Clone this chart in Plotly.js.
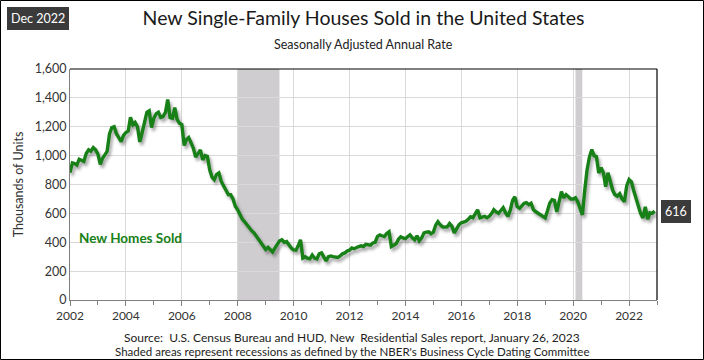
<!DOCTYPE html>
<html>
<head>
<meta charset="utf-8">
<script src="https://cdn.plot.ly/plotly-3.0.1.min.js"></script>
<style>
  html, body { margin: 0; padding: 0; background: #fff; }
  #chart { width: 704px; height: 360px; }
</style>
</head>
<body>
<div id="chart"></div>
<script>
// New single-family houses sold, SAAR, thousands of units, monthly from Jan 2002
const startYear = 2002;
const homesSold = [
  // 2002
  882, 950, 945, 935, 975, 965, 960, 1015, 1040, 1030, 1055, 1040,
  // 2003
  1010, 940, 980, 1005, 1030, 1150, 1194, 1200, 1150, 1125, 1097, 1140,
  // 2004
  1160, 1170, 1265, 1215, 1230, 1200, 1095, 1160, 1236, 1300, 1310, 1194,
  // 2005
  1260, 1290, 1300, 1265, 1270, 1300, 1389, 1264, 1260, 1333, 1250, 1225,
  // 2006
  1215, 1070, 1110, 1125, 1090, 1050, 990, 1020, 1040, 970, 1000, 995,
  // 2007
  900, 850, 833, 870, 880, 820, 785, 760, 730, 729, 700, 650,
  // 2008
  625, 590, 560, 542, 520, 500, 480, 465, 440, 415, 396, 375,
  // 2009
  350, 365, 350, 333, 360, 390, 410, 417, 400, 405, 380, 360,
  // 2010
  347, 345, 375, 417, 291, 300, 290, 285, 312, 290, 285, 320,
  // 2011
  326, 300, 270, 300, 305, 300, 295, 295, 305, 320, 326, 340,
  // 2012
  345, 361, 355, 365, 370, 375, 370, 385, 380, 380, 395, 400,
  // 2013
  440, 451, 445, 440, 460, 472, 370, 380, 390, 420, 438, 430,
  // 2014
  425, 440, 451, 430, 417, 445, 410, 430, 465, 470, 472, 460,
  // 2015
  470, 520, 542, 520, 507, 505, 507, 530, 510, 465, 495, 521,
  // 2016
  535, 540, 545, 560, 576, 570, 600, 625, 569, 575, 580, 570,
  // 2017
  580, 600, 625, 610, 600, 620, 639, 604, 580, 620, 690, 715,
  // 2018
  646, 635, 650, 670, 674, 660, 670, 625, 611, 600, 590, 576,
  // 2019
  569, 620, 670, 694, 690, 611, 680, 750, 708, 729, 715, 700,
  // 2020
  700, 708, 681, 640, 590, 760, 900, 990, 1042, 1000, 993, 880,
  // 2021
  917, 880, 785, 882, 812, 760, 729, 720, 736, 700, 681, 790,
  // 2022
  835, 819, 760, 700, 646, 600, 569, 646, 560, 604, 600, 616
];
const recessions = [
  ['2008-01-01', '2009-06-30'],
  ['2020-02-01', '2020-04-30']
];
const yTicks = [0, 200, 400, 600, 800, 1000, 1200, 1400, 1600];
const latestLabel = 'Dec 2022';

const months = homesSold.map((_, i) => {
  const y = startYear + Math.floor(i / 12);
  const m = (i % 12) + 1;
  return y + '-' + String(m).padStart(2, '0') + '-01';
});
const lastValue = homesSold[homesSold.length - 1];

const M = { l: 70, r: 47, t: 69, b: 60 };
const W = 704, H = 360;
const pw = W - M.l - M.r, ph = H - M.t - M.b;
const px = v => (v - M.l) / pw;          // pixel -> paper x
const py = v => (H - M.b - v) / ph;      // pixel -> paper y

const FONT = 'Lato, "Open Sans", sans-serif';

const shapes = recessions.map(r => ({
  type: 'rect', xref: 'x', yref: 'paper', x0: r[0], x1: r[1], y0: 0, y1: 1,
  fillcolor: '#cfcdd0', line: { width: 0 }, layer: 'below'
}));
// top and right plot borders
shapes.push({ type: 'line', xref: 'paper', yref: 'paper', x0: 0, x1: 1, y0: 1, y1: 1, line: { color: '#000', width: 1.2 } });
shapes.push({ type: 'line', xref: 'paper', yref: 'paper', x0: 1, x1: 1, y0: 0, y1: 1, line: { color: '#000', width: 1.2 } });
// outer frame
shapes.push({ type: 'rect', xref: 'paper', yref: 'paper', x0: px(0.5), x1: px(W - 0.5), y0: py(H - 0.5), y1: py(0.5), line: { color: '#000', width: 1 }, fillcolor: 'rgba(0,0,0,0)' });

const data = [{
  x: months, y: homesSold, type: 'scatter', mode: 'lines',
  line: { color: '#178017', width: 3.4 }, hoverinfo: 'x+y'
}];

const layout = {
  width: W, height: H,
  margin: M,
  paper_bgcolor: '#fff', plot_bgcolor: '#fff',
  showlegend: false,
  font: { family: FONT, color: '#333', size: 12 },
  title: {
    text: 'New Single-Family Houses Sold in the United States',
    font: { family: FONT, size: 19.5, color: '#1a1a1a' },
    x: 0.5, xref: 'paper', xanchor: 'center', y: 1 - 11 / H, yanchor: 'top'
  },
  xaxis: {
    type: 'date',
    range: ['2002-01-01', '2023-01-01'],
    tick0: '2002-01-01', dtick: 'M24', tickformat: '%Y',
    showgrid: true, gridcolor: '#d9d9d9', gridwidth: 1,
    showline: true, linecolor: '#7f7f7f', linewidth: 1,
    ticks: 'outside', ticklen: 5, tickcolor: '#7f7f7f',
    minor: { dtick: 'M12', ticks: 'outside', ticklen: 4, tickcolor: '#7f7f7f', showgrid: false },
    tickfont: { family: FONT, size: 12, color: '#333' },
    zeroline: false, fixedrange: true
  },
  yaxis: {
    range: [0, 1600], tickvals: yTicks, tickformat: ',d',
    showgrid: true, gridcolor: '#d9d9d9', gridwidth: 1,
    showline: true, linecolor: '#7f7f7f', linewidth: 1,
    ticks: '', zeroline: false,
    tickfont: { family: FONT, size: 12.5, color: '#333' },
    title: { text: 'Thousands of Units', font: { family: FONT, size: 12.5, color: '#333' }, standoff: 8 },
    fixedrange: true
  },
  shapes: shapes,
  annotations: [
    {
      text: 'Seasonally Adjusted Annual Rate', xref: 'paper', yref: 'paper',
      x: 0.5, y: py(45), xanchor: 'center', yanchor: 'middle', showarrow: false,
      font: { family: FONT, size: 12.5, color: '#222' }
    },
    {
      text: latestLabel, xref: 'paper', yref: 'paper',
      x: px(7), y: py(7), xanchor: 'left', yanchor: 'top', showarrow: false,
      bgcolor: '#3b3b3b', bordercolor: '#3b3b3b', borderpad: 3,
      font: { family: FONT, size: 12.5, color: '#fff' }
    },
    {
      text: '<b>New Homes Sold</b>', xref: 'x', yref: 'y',
      x: '2002-04-01', y: 430, xanchor: 'left', yanchor: 'middle', showarrow: false,
      font: { family: FONT, size: 13.5, color: '#178017' }
    },
    {
      text: String(lastValue), xref: 'paper', yref: 'y',
      x: 1, y: lastValue, xanchor: 'left', yanchor: 'middle', xshift: 4, showarrow: false,
      bgcolor: '#3b3b3b', bordercolor: '#3b3b3b', borderpad: 3,
      font: { family: FONT, size: 12.5, color: '#fff' }
    },
    {
      text: 'Source:  U.S. Census Bureau and HUD, New  Residential Sales report, January 26, 2023',
      xref: 'paper', yref: 'paper', x: px(352), y: py(337), xanchor: 'center', yanchor: 'middle',
      showarrow: false, font: { family: FONT, size: 12, color: '#222' }
    },
    {
      text: "Shaded areas represent recessions as defined by the NBER's Business Cycle Dating Committee",
      xref: 'paper', yref: 'paper', x: px(352), y: py(351.5), xanchor: 'center', yanchor: 'middle',
      showarrow: false, font: { family: FONT, size: 11.5, color: '#222' }
    }
  ]
};

Plotly.newPlot('chart', data, layout, { staticPlot: true, displayModeBar: false }).then(gd => {
  gd.querySelectorAll('.scatterlayer .trace path.js-line').forEach(p => {
    p.style.filter = 'drop-shadow(2px 3px 1.5px rgba(60,60,60,0.45))';
  });
});
</script>
</body>
</html>
